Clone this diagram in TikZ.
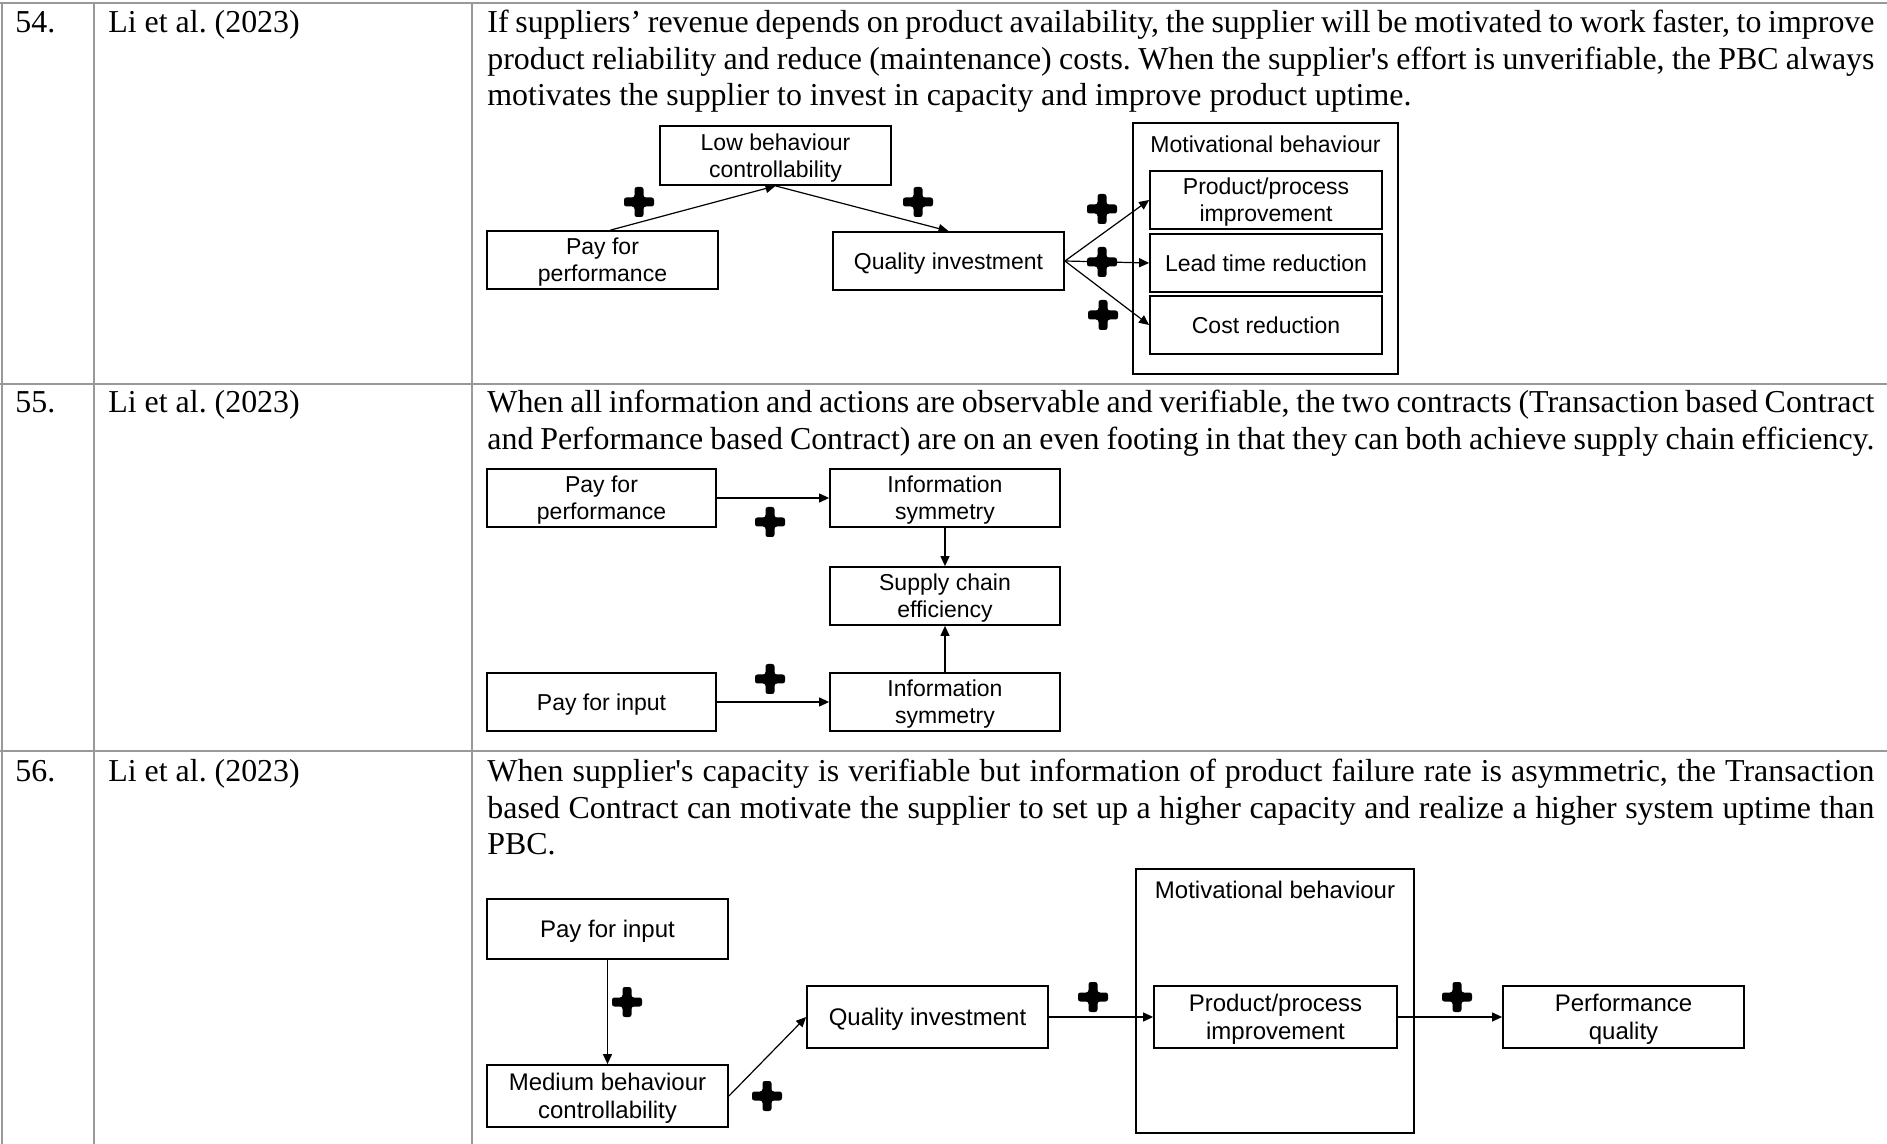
\documentclass[tikz,border=0pt]{standalone}
\usepackage{fontspec}
\setmainfont{Liberation Serif}[Ligatures=TeXOff]
\setsansfont{Liberation Sans}
\usetikzlibrary{arrows.meta,calc}
\frenchspacing

\definecolor{rulegray}{gray}{0.6}

\begin{document}
\begin{tikzpicture}[x=0.5pt, y=-0.5pt,
  tablerule/.style={draw=rulegray, line width=1.1pt},
  celltext/.style={inner sep=0pt, anchor=base west, font=\fontsize{15.95}{18}\selectfont},
  box/.style={draw, line width=0.9pt, inner sep=0pt, align=center, text depth=0pt,
    font=\sffamily\fontsize{11.5}{13.5}\selectfont},
  bigbox/.style={box, font=\sffamily\fontsize{12}{14}\selectfont},
  sz/.style 2 args={minimum width={#1*0.5pt}, minimum height={#2*0.5pt}},
  grouptitle/.style={inner sep=0pt, anchor=base},
  link/.style={draw, line width=0.6pt, -{Triangle[length=5pt,width=4.5pt]}},
  plusmark/.pic={\fill[rounded corners=1.2pt]
      (-15,-4.5) -- (-4.5,-4.5) -- (-4.5,-15) -- (4.5,-15) -- (4.5,-4.5) -- (15,-4.5)
      -- (15,4.5) -- (4.5,4.5) -- (4.5,15) -- (-4.5,15) -- (-4.5,4.5) -- (-15,4.5) -- cycle;}
]
\useasboundingbox (0,0) rectangle (1887,1144);

% ---------- table grid ----------
\draw[tablerule] (0,3) -- (1887,3);
\draw[tablerule] (0,384) -- (1887,384);
\draw[tablerule] (0,751) -- (1887,751);
\draw[tablerule] (2,3) -- (2,1144);
\draw[tablerule] (94,3) -- (94,1144);
\draw[tablerule] (472,3) -- (472,1144);

% ---------- row 54 ----------
\node[celltext] (n54) at (15,33) {54.};
\node[celltext] (r54) at (108,33) {Li et al. (2023)};
\node[celltext] (d54a) at (487,33) {\makebox[693.5pt][s]{If suppliers’ revenue depends on product availability, the supplier will be motivated to work faster, to improve}};
\node[celltext] (d54b) at (487,69.5) {\makebox[693.5pt][s]{product reliability and reduce (maintenance) costs. When the supplier's effort is unverifiable, the PBC always}};
\node[celltext] (d54c) at (487,106) {motivates the supplier to invest in capacity and improve product uptime.};

\node[box, sz={231}{58}] (pfpA) at (602.5,260) {Pay for\\performance};
\node[box, sz={231}{59}] (lbcA) at (775.5,155.5) {Low behaviour\\controllability};
\node[box, sz={231}{58}] (qiA) at (948.5,261) {Quality investment};
\node[draw, line width=0.9pt, sz={265}{251}] (mbA) at (1265.5,248.5) {};
\node[grouptitle, font=\sffamily\fontsize{11.5}{13.5}\selectfont] (mbAt) at (1265.5,153) {Motivational behaviour};
\node[box, sz={232}{58}] (ppiA) at (1266,200) {Product/process\\improvement};
\node[box, sz={232}{58}] (ltrA) at (1266,263) {Lead time reduction};
\node[box, sz={232}{58}] (crA) at (1266,325) {Cost reduction};

\draw[link] ([xshift=4pt]pfpA.north) -- (lbcA.south);
\draw[link] (lbcA.south) -- (qiA.north);
\draw[link] (qiA.east) -- (ppiA.west);
\draw[link] (qiA.east) -- (ltrA.west);
\draw[link] (qiA.east) -- (crA.west);

\pic at (639,202) {plusmark};
\pic at (918,202) {plusmark};
\pic at (1102,209) {plusmark};
\pic at (1102,262) {plusmark};
\pic at (1103,315) {plusmark};

% ---------- row 55 ----------
\node[celltext] (n55) at (15,413) {55.};
\node[celltext] (r55) at (108,413) {Li et al. (2023)};
\node[celltext] (d55a) at (487,413) {\makebox[693.5pt][s]{When all information and actions are observable and verifiable, the two contracts (Transaction based Contract}};
\node[celltext] (d55b) at (487,449.5) {\makebox[693.5pt][s]{and Performance based Contract) are on an even footing in that they can both achieve supply chain efficiency.}};

\node[box, sz={229}{58}] (pfpB) at (601.5,498) {Pay for\\performance};
\node[box, sz={230}{58}] (isB1) at (945,498) {Information\\symmetry};
\node[box, sz={230}{58}] (sceB) at (945,596) {Supply chain\\efficiency};
\node[box, sz={229}{58}] (pfiB) at (601.5,702) {Pay for input};
\node[box, sz={230}{58}] (isB2) at (945,702) {Information\\symmetry};

\draw[link] (pfpB.east) -- (isB1.west);
\draw[link] (isB1.south) -- (sceB.north);
\draw[link] (pfiB.east) -- (isB2.west);
\draw[link] (isB2.north) -- (sceB.south);

\pic at (770,522) {plusmark};
\pic at (770,679) {plusmark};

% ---------- row 56 ----------
\node[celltext] (n56) at (15,782) {56.};
\node[celltext] (r56) at (108,782) {Li et al. (2023)};
\node[celltext] (d56a) at (487,782) {\makebox[693.5pt][s]{When supplier's capacity is verifiable but information of product failure rate is asymmetric, the Transaction}};
\node[celltext] (d56b) at (487,818.5) {\makebox[693.5pt][s]{based Contract can motivate the supplier to set up a higher capacity and realize a higher system uptime than}};
\node[celltext] (d56c) at (487,855) {PBC.};

\node[bigbox, sz={241}{60}] (pfiC) at (607.5,929) {Pay for input};
\node[bigbox, sz={241}{62}] (mbcC) at (607.5,1096) {Medium behaviour\\controllability};
\node[bigbox, sz={241}{62}] (qiC) at (927.5,1017) {Quality investment};
\node[draw, line width=0.9pt, sz={278}{264}] (mbC) at (1275,1001) {};
\node[grouptitle, font=\sffamily\fontsize{12}{14}\selectfont] (mbCt) at (1275,899) {Motivational behaviour};
\node[bigbox, sz={243}{62}] (ppiC) at (1275.5,1017) {Product/process\\improvement};
\node[bigbox, sz={241}{62}] (pqC) at (1623.5,1017) {Performance\\quality};

\draw[link] (pfiC.south) -- (mbcC.north);
\draw[link] (mbcC.east) -- (qiC.west);
\draw[link] (qiC.east) -- (ppiC.west);
\draw[link] (ppiC.east) -- (pqC.west);

\pic at (627,1002) {plusmark};
\pic at (767,1096) {plusmark};
\pic at (1093,997) {plusmark};
\pic at (1457,997) {plusmark};

\end{tikzpicture}
\end{document}
